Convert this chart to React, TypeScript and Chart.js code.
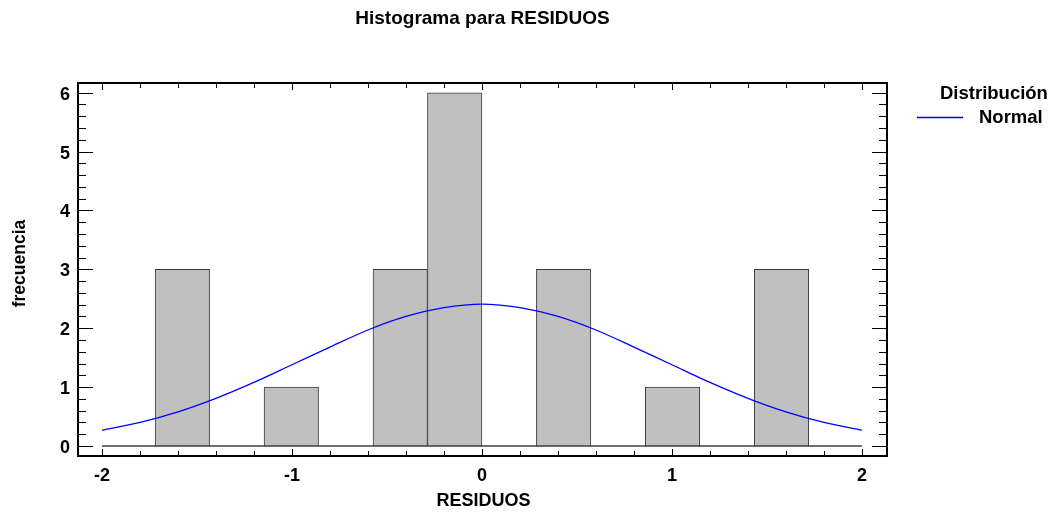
import React, { useEffect, useRef } from 'react';
import { Chart, registerables } from 'chart.js';

Chart.register(...registerables);

// ---- data ----
const binCenters = [-1.5767, -1.29, -1.0033, -0.7167, -0.43, -0.1433, 0.1433, 0.43, 0.7167, 1.0033, 1.29, 1.5767];
const binCounts = [3, 0, 1, 0, 3, 6, 0, 3, 0, 1, 0, 3];

const curveX = [-2, -1.8, -1.6, -1.4, -1.2, -1, -0.8, -0.6, -0.4, -0.2, 0, 0.2, 0.4, 0.6, 0.8, 1, 1.2, 1.4, 1.6, 1.8, 2];
const curveY = [0.27, 0.4, 0.58, 0.81, 1.08, 1.38, 1.68, 1.97, 2.2, 2.35, 2.41, 2.35, 2.2, 1.97, 1.68, 1.38, 1.08, 0.81, 0.58, 0.4, 0.27];

const baselineX = [-2, 2];
const baselineY = [0, 0];

const xTickValues = [-2, -1, 0, 1, 2];
const xTickLabels = ['-2', '-1', '0', '1', '2'];
const yTickValues = [0, 1, 2, 3, 4, 5, 6];
const yTickLabels = ['0', '1', '2', '3', '4', '5', '6'];

const chartTitle = 'Histograma para RESIDUOS';
const xTitle = 'RESIDUOS';
const yTitle = 'frecuencia';
const legendTitle = 'Distribución';
const legendLabel = 'Normal';

const FONT = '"Liberation Sans", Arial, sans-serif';

const decorPlugin = {
  id: 'decor',
  afterDatasetsDraw(chart: any) {
    const { ctx, chartArea: a, scales } = chart;
    const x = scales.x;
    const y = scales.y;
    ctx.save();
    ctx.strokeStyle = '#000';
    ctx.lineWidth = 1;
    ctx.beginPath();
    // x ticks (inside, top and bottom)
    for (let i = -30; i <= 30; i++) {
      const v = i * 0.2;
      if (v < x.min - 1e-9 || v > x.max + 1e-9) continue;
      const px = Math.round(x.getPixelForValue(v)) + 0.5;
      const len = i % 5 === 0 ? 7 : 5;
      ctx.moveTo(px, a.bottom);
      ctx.lineTo(px, a.bottom - len);
      ctx.moveTo(px, a.top);
      ctx.lineTo(px, a.top + len);
    }
    // y ticks (inside, left and right)
    for (let i = -10; i <= 40; i++) {
      const v = i * 0.2;
      if (v < y.min - 1e-9 || v > y.max + 1e-9) continue;
      const py = Math.round(y.getPixelForValue(v)) + 0.5;
      const len = i % 5 === 0 ? 15 : 8;
      ctx.moveTo(a.left, py);
      ctx.lineTo(a.left + len, py);
      ctx.moveTo(a.right, py);
      ctx.lineTo(a.right - len, py);
    }
    ctx.stroke();
    ctx.lineWidth = 2;
    ctx.strokeRect(a.left, a.top, a.right - a.left, a.bottom - a.top);
    ctx.restore();
  },
  afterDraw(chart: any) {
    const { ctx, chartArea: a, scales } = chart;
    const x = scales.x;
    const y = scales.y;
    ctx.save();
    ctx.fillStyle = '#000';
    // tick labels
    ctx.font = `bold 18px ${FONT}`;
    ctx.textAlign = 'center';
    ctx.textBaseline = 'alphabetic';
    xTickValues.forEach((v, i) => {
      ctx.fillText(xTickLabels[i], x.getPixelForValue(v), a.bottom + 25);
    });
    ctx.textAlign = 'right';
    yTickValues.forEach((v, i) => {
      ctx.fillText(yTickLabels[i], a.left - 8, y.getPixelForValue(v) + 7);
    });
    // axis titles
    ctx.textAlign = 'center';
    ctx.fillText(xTitle, (a.left + a.right) / 2 + 1, 505.5);
    ctx.save();
    ctx.font = `bold 17.5px ${FONT}`;
    ctx.translate(25, (a.top + a.bottom) / 2 - 6);
    ctx.rotate(-Math.PI / 2);
    ctx.fillText(yTitle, 0, 0);
    ctx.restore();
    // chart title
    ctx.font = `bold 19px ${FONT}`;
    ctx.fillText(chartTitle, (a.left + a.right) / 2, 24);
    // legend
    ctx.font = `bold 18.5px ${FONT}`;
    ctx.textAlign = 'left';
    ctx.fillText(legendTitle, 940, 99);
    ctx.fillText(legendLabel, 979, 123);
    ctx.strokeStyle = '#0000ff';
    ctx.lineWidth = 1.3;
    ctx.beginPath();
    ctx.moveTo(917, 117.5);
    ctx.lineTo(963, 117.5);
    ctx.stroke();
    ctx.restore();
  },
};

export default function App() {
  const canvasRef = useRef<HTMLCanvasElement | null>(null);

  useEffect(() => {
    const canvas = canvasRef.current;
    if (!canvas) return;
    const chart = new Chart(canvas, {
      type: 'bar',
      data: {
        datasets: [
          {
            type: 'line',
            label: legendLabel,
            data: curveX.map((v, i) => ({ x: v, y: curveY[i] })),
            borderColor: '#0000ff',
            borderWidth: 1.3,
            pointRadius: 0,
            tension: 0.3,
            fill: false,
            order: 0,
          } as any,
          {
            type: 'bar',
            label: 'frecuencia',
            data: binCenters.map((v, i) => ({ x: v, y: binCounts[i] })),
            backgroundColor: '#c0c0c0',
            borderColor: '#3c3c3c',
            borderWidth: 1,
            borderSkipped: false,
            barPercentage: 1,
            categoryPercentage: 1,
            order: 1,
          } as any,
          {
            type: 'line',
            label: 'base',
            data: baselineX.map((v, i) => ({ x: v, y: baselineY[i] })),
            borderColor: '#404040',
            borderWidth: 1.5,
            pointRadius: 0,
            fill: false,
            order: 2,
          } as any,
        ],
      },
      options: {
        responsive: false,
        animation: false,
        devicePixelRatio: 1,
        layout: { padding: { left: 78, top: 83, right: 173, bottom: 58 } },
        plugins: {
          legend: { display: false },
          tooltip: { enabled: false },
          title: { display: false },
        },
        scales: {
          x: {
            type: 'linear',
            display: false,
            min: -2.126,
            max: 2.132,
            offset: false,
          },
          y: {
            type: 'linear',
            display: false,
            min: -0.17,
            max: 6.165,
          },
        },
      },
      plugins: [decorPlugin],
    });
    return () => chart.destroy();
  }, []);

  return (
    <div style={{ position: 'absolute', left: 0, top: 0, width: 1060, height: 514, background: '#fff' }}>
      <canvas ref={canvasRef} width={1060} height={514} style={{ display: 'block' }} />
    </div>
  );
}
